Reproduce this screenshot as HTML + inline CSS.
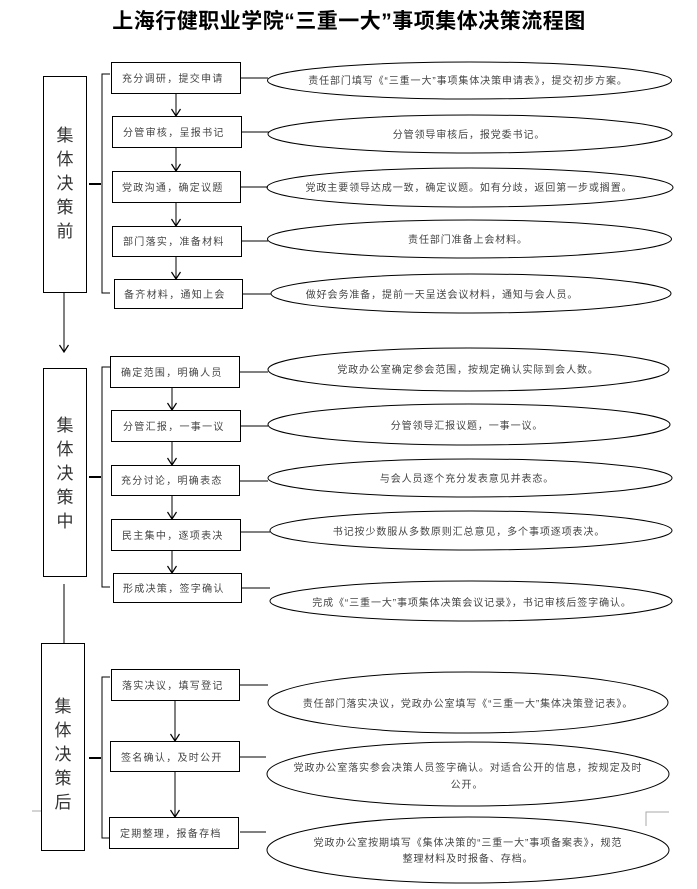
<!DOCTYPE html>
<html><head><meta charset="utf-8"><style>
html,body{margin:0;padding:0;background:#fff;}
svg{display:block;}
text{font-family:"Liberation Sans","Noto Sans CJK SC",sans-serif;}
.b{font-size:10px;fill:#444;letter-spacing:1.3px;}
.e{font-size:10px;fill:#444;letter-spacing:0.9px;text-anchor:middle;}
.v{font-size:17px;fill:#333;text-anchor:middle;}
</style></head><body>
<svg width="697" height="889" viewBox="0 0 697 889" xmlns="http://www.w3.org/2000/svg">
<defs><marker id="a" markerWidth="10" markerHeight="10" refX="9" refY="5" orient="auto" markerUnits="userSpaceOnUse"><path d="M2,0.5 L9,5 L2,9.5" fill="none" stroke="#000" stroke-width="1.2"/></marker></defs>
<text x="349" y="28" text-anchor="middle" style="font-size:21px;font-weight:bold;fill:#000;letter-spacing:0.5px;">上海行健职业学院“三重一大”事项集体决策流程图</text>
<g fill="none" stroke="#000" stroke-width="1">
<rect x="43.5" y="76.5" width="43" height="216"/>
<rect x="43.5" y="368.5" width="43" height="208"/>
<rect x="41.5" y="643.5" width="43" height="207"/>
<line x1="64" y1="292" x2="64" y2="352" marker-end="url(#a)"/>
<line x1="64" y1="584" x2="64" y2="643"/>
<path d="M110,74 H102 V293 H110"/><line x1="89" y1="184" x2="101" y2="184" stroke-width="2"/>
<path d="M110,367 H102 V587 H110"/><line x1="89" y1="477" x2="101" y2="477" stroke-width="2"/>
<path d="M110,677 H102 V838 H110"/><line x1="89" y1="758" x2="101" y2="758" stroke-width="2"/>
<rect x="111.5" y="62.5" width="129" height="31"/>
<rect x="112.5" y="116.5" width="129" height="31"/>
<rect x="112.5" y="171.5" width="128" height="31"/>
<rect x="112.5" y="226.5" width="129" height="30"/>
<rect x="114.5" y="279.5" width="128" height="29"/>
<line x1="176" y1="93" x2="176" y2="116" marker-end="url(#a)"/>
<line x1="176" y1="147" x2="176" y2="171" marker-end="url(#a)"/>
<line x1="176" y1="202" x2="176" y2="226" marker-end="url(#a)"/>
<line x1="176" y1="256" x2="176" y2="279" marker-end="url(#a)"/>
<line x1="241" y1="78" x2="268" y2="78"/><ellipse cx="469.5" cy="80.5" rx="202" ry="18.5"/>
<line x1="241" y1="132" x2="269" y2="132"/><ellipse cx="470" cy="134" rx="202" ry="19"/>
<line x1="241" y1="187" x2="268" y2="187"/><ellipse cx="470" cy="187.5" rx="203" ry="19.5"/>
<line x1="241" y1="241" x2="268" y2="241"/><ellipse cx="469.5" cy="239" rx="202" ry="19"/>
<line x1="242" y1="294" x2="271" y2="294"/><ellipse cx="471" cy="293.5" rx="200" ry="19.5"/>
<rect x="110.5" y="356.5" width="129" height="31"/>
<rect x="111.5" y="410.5" width="129" height="31"/>
<rect x="111.5" y="465.5" width="128" height="30"/>
<rect x="111.5" y="519.5" width="129" height="31"/>
<rect x="113.5" y="573.5" width="128" height="29"/>
<line x1="172" y1="387" x2="172" y2="410" marker-end="url(#a)"/>
<line x1="172" y1="441" x2="172" y2="465" marker-end="url(#a)"/>
<line x1="172" y1="495" x2="172" y2="519" marker-end="url(#a)"/>
<line x1="172" y1="550" x2="172" y2="573" marker-end="url(#a)"/>
<line x1="240" y1="372" x2="268" y2="372"/><ellipse cx="468.5" cy="369.5" rx="200.5" ry="21.5"/>
<line x1="241" y1="426" x2="268" y2="426"/><ellipse cx="469" cy="424.5" rx="201" ry="20.5"/>
<line x1="240" y1="481" x2="268" y2="481"/><ellipse cx="470" cy="478" rx="202" ry="19"/>
<line x1="241" y1="532" x2="270" y2="532"/><ellipse cx="471" cy="530.5" rx="201" ry="19.5"/>
<line x1="242" y1="588" x2="270" y2="588"/><ellipse cx="471" cy="601" rx="201" ry="20"/>
<rect x="111.5" y="669.5" width="128" height="31"/>
<rect x="110.5" y="741.5" width="129" height="30"/>
<rect x="109.5" y="817.5" width="129" height="31"/>
<line x1="175" y1="700" x2="175" y2="741" marker-end="url(#a)"/>
<line x1="175" y1="771" x2="175" y2="817" marker-end="url(#a)"/>
<line x1="240" y1="685" x2="268" y2="685"/><ellipse cx="468" cy="702.5" rx="200" ry="30.5"/>
<line x1="240" y1="757" x2="266" y2="757"/><ellipse cx="468" cy="774" rx="201" ry="32"/>
<line x1="240" y1="832" x2="266" y2="832"/><ellipse cx="468" cy="850" rx="201" ry="33"/>
<path d="M646,826 V812 H669" stroke="#aaa"/>
<line x1="32" y1="811" x2="41" y2="811" stroke="#aaa"/>
</g>
<g class="v">
<text x="65" y="141" class="v">集</text><text x="65" y="165" class="v">体</text><text x="65" y="189" class="v">决</text><text x="65" y="213" class="v">策</text><text x="65" y="237" class="v">前</text>
<text x="65" y="431" class="v">集</text><text x="65" y="455" class="v">体</text><text x="65" y="479" class="v">决</text><text x="65" y="503" class="v">策</text><text x="65" y="527" class="v">中</text>
<text x="63" y="712" class="v">集</text><text x="63" y="736" class="v">体</text><text x="63" y="760" class="v">决</text><text x="63" y="784" class="v">策</text><text x="63" y="808" class="v">后</text>
</g>
<text class="b" x="122" y="82">充分调研，提交申请</text>
<text class="b" x="123" y="136">分管审核，呈报书记</text>
<text class="b" x="122" y="191">党政沟通，确定议题</text>
<text class="b" x="123" y="245">部门落实，准备材料</text>
<text class="b" x="124" y="298">备齐材料，通知上会</text>
<text class="b" x="121" y="376">确定范围，明确人员</text>
<text class="b" x="123" y="430">分管汇报，一事一议</text>
<text class="b" x="121" y="484">充分讨论，明确表态</text>
<text class="b" x="122" y="539">民主集中，逐项表决</text>
<text class="b" x="123" y="592">形成决策，签字确认</text>
<text class="b" x="122" y="689">落实决议，填写登记</text>
<text class="b" x="121" y="761">签名确认，及时公开</text>
<text class="b" x="120" y="837">定期整理，报备存档</text>
<g>
<text class="e" x="468" y="84">责任部门填写《“三重一大”事项集体决策申请表》，提交初步方案。</text>
<text class="e" x="469" y="138">分管领导审核后，报党委书记。</text>
<text class="e" x="469" y="191">党政主要领导达成一致，确定议题。如有分歧，返回第一步或搁置。</text>
<text class="e" x="468" y="243">责任部门准备上会材料。</text>
<text class="e" x="442" y="298">做好会务准备，提前一天呈送会议材料，通知与会人员。</text>
<text class="e" x="468" y="373">党政办公室确定参会范围，按规定确认实际到会人数。</text>
<text class="e" x="467" y="429">分管领导汇报议题，一事一议。</text>
<text class="e" x="467" y="482">与会人员逐个充分发表意见并表态。</text>
<text class="e" x="469" y="535">书记按少数服从多数原则汇总意见，多个事项逐项表决。</text>
<text class="e" x="472" y="606">完成《“三重一大”事项集体决策会议记录》，书记审核后签字确认。</text>
<text class="e" x="468" y="707">责任部门落实决议，党政办公室填写《“三重一大”集体决策登记表》。</text>
<text class="e" x="468" y="771">党政办公室落实参会决策人员签字确认。对适合公开的信息，按规定及时</text>
<text class="e" x="467" y="788">公开。</text>
<text class="e" x="468" y="846">党政办公室按期填写《集体决策的“三重一大”事项备案表》，规范</text>
<text class="e" x="468" y="862">整理材料及时报备、存档。</text>
</g>
</svg>
</body></html>
